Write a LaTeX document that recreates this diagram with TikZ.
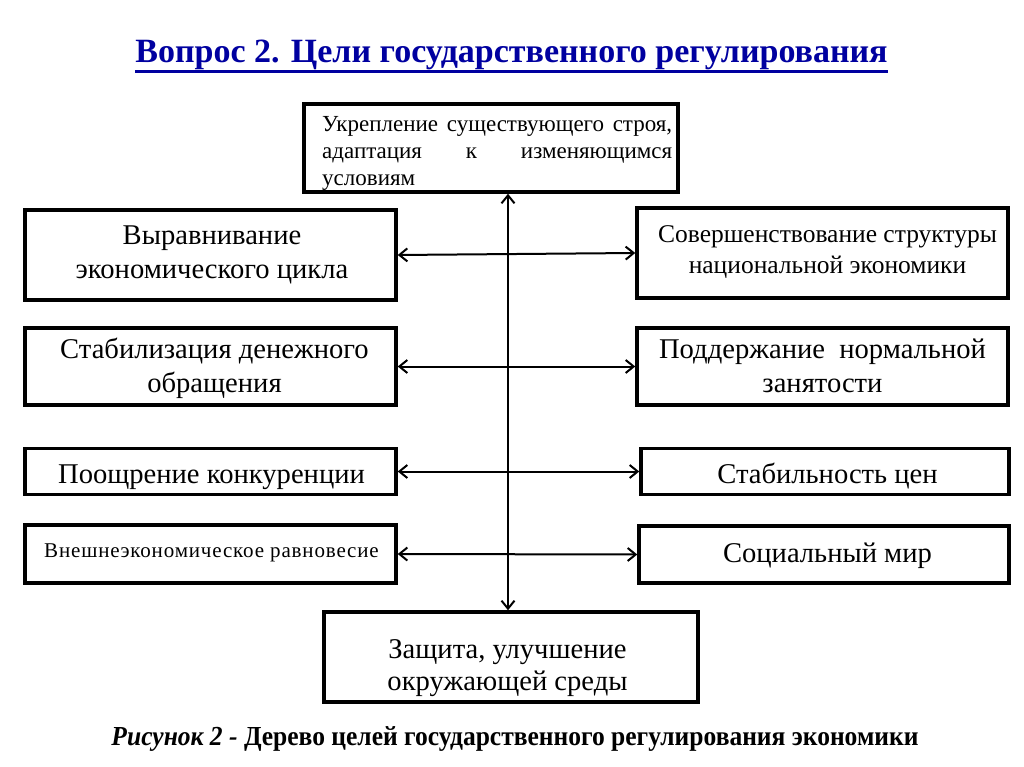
\documentclass[tikz,border=0pt]{standalone}
\usepackage{fontspec}
\usepackage{graphicx}
\setmainfont{Liberation Serif}
\usetikzlibrary{arrows.meta}
\definecolor{titleblue}{RGB}{0,0,160}
\tikzset{
  goalbox/.style={draw=black, line width=3.5pt, rectangle, inner sep=0pt},
  boxtext/.style={anchor=base, inner sep=0pt, font=\fontsize{28.6}{34}\selectfont},
  link/.style={line width=2pt, {Straight Barb[length=8pt,width=13pt]}-{Straight Barb[length=8pt,width=13pt]}}
}
\newcommand{\lines}[1]{\begin{tabular}[t]{@{}c@{}}#1\end{tabular}}
\begin{document}
\begin{tikzpicture}[x=1pt,y=-1pt]
\useasboundingbox[fill=white] (0,0) rectangle (1024,767);

% title
\node[anchor=base, inner sep=0pt, text=titleblue, font=\fontsize{34}{40}\selectfont\bfseries] (title) at (511.5,63) {Вопрос 2. Цели государственного регулирования};
\draw[titleblue, line width=2.5pt] ([yshift=-8.3pt]title.base west) -- ([yshift=-8.3pt]title.base east);

% boxes
\node[goalbox, minimum width=374pt, minimum height=88pt] (top) at (491,148) {};
\node[goalbox, minimum width=371pt, minimum height=90pt] (L1) at (210.5,255) {};
\node[goalbox, minimum width=371pt, minimum height=90pt] (R1) at (822.5,253) {};
\node[goalbox, minimum width=371pt, minimum height=77pt] (L2) at (210.5,366.5) {};
\node[goalbox, minimum width=371pt, minimum height=77pt] (R2) at (822.5,366.5) {};
\node[goalbox, minimum width=371pt, minimum height=46pt] (L3) at (210.5,471.5) {};
\node[goalbox, minimum width=368pt, minimum height=46pt] (R3) at (825,471.5) {};
\node[goalbox, minimum width=371pt, minimum height=58pt] (L4) at (210.5,554) {};
\node[goalbox, minimum width=370pt, minimum height=57pt] (R4) at (824,554.5) {};
\node[goalbox, minimum width=374pt, minimum height=90pt] (bottom) at (511,657) {};

% texts
\node[anchor=base west, inner sep=0pt, font=\fontsize{23}{27}\selectfont] (toptext) at (322,132) {\parbox[t]{350pt}{Укрепление существующего строя,\linebreak адаптация к изменяющимся\linebreak условиям}};
\node[boxtext] (L1t) at (212,244) {\lines{Выравнивание\\экономического цикла}};
\node[boxtext, font=\fontsize{25.5}{31}\selectfont] (R1t) at (827.5,243) {\lines{Совершенствование структуры\\национальной экономики}};
\node[boxtext] (L2t) at (214.5,358) {\lines{Стабилизация денежного\\обращения}};
\node[boxtext] (R2t) at (822.5,358) {\lines{Поддержание\ \ нормальной\\занятости}};
\node[boxtext] (L3t) at (211.5,483) {Поощрение конкуренции};
\node[boxtext] (R3t) at (827.5,483) {Стабильность цен};
\node[boxtext, font=\fontsize{21}{25}\selectfont\addfontfeature{LetterSpace=4}] (L4t) at (211.5,557) {Внешнеэкономическое равновесие};
\node[boxtext] (R4t) at (827.5,562) {Социальный мир};
\node[boxtext, font=\fontsize{28.6}{32}\selectfont] (bottomt) at (507.5,658) {\lines{Защита, улучшение\\окружающей среды}};

% connectors
\coordinate (vx) at (508,0);
\draw[link] (top.south -| vx) -- (bottom.north -| vx);
\draw[link] (L1.east) -- (R1.west);
\draw[link] (L2.east) -- (R2.west);
\draw[link] (L3.east) -- (R3.west);
\draw[link] (L4.east) -- (R4.west);

% caption
\node[anchor=base, inner sep=0pt, font=\fontsize{27.5}{32}\selectfont\bfseries] (caption) at (515,745) {\scalebox{0.928}[1]{\textit{Рисунок 2 -} Дерево целей государственного регулирования экономики}};
\end{tikzpicture}
\end{document}
